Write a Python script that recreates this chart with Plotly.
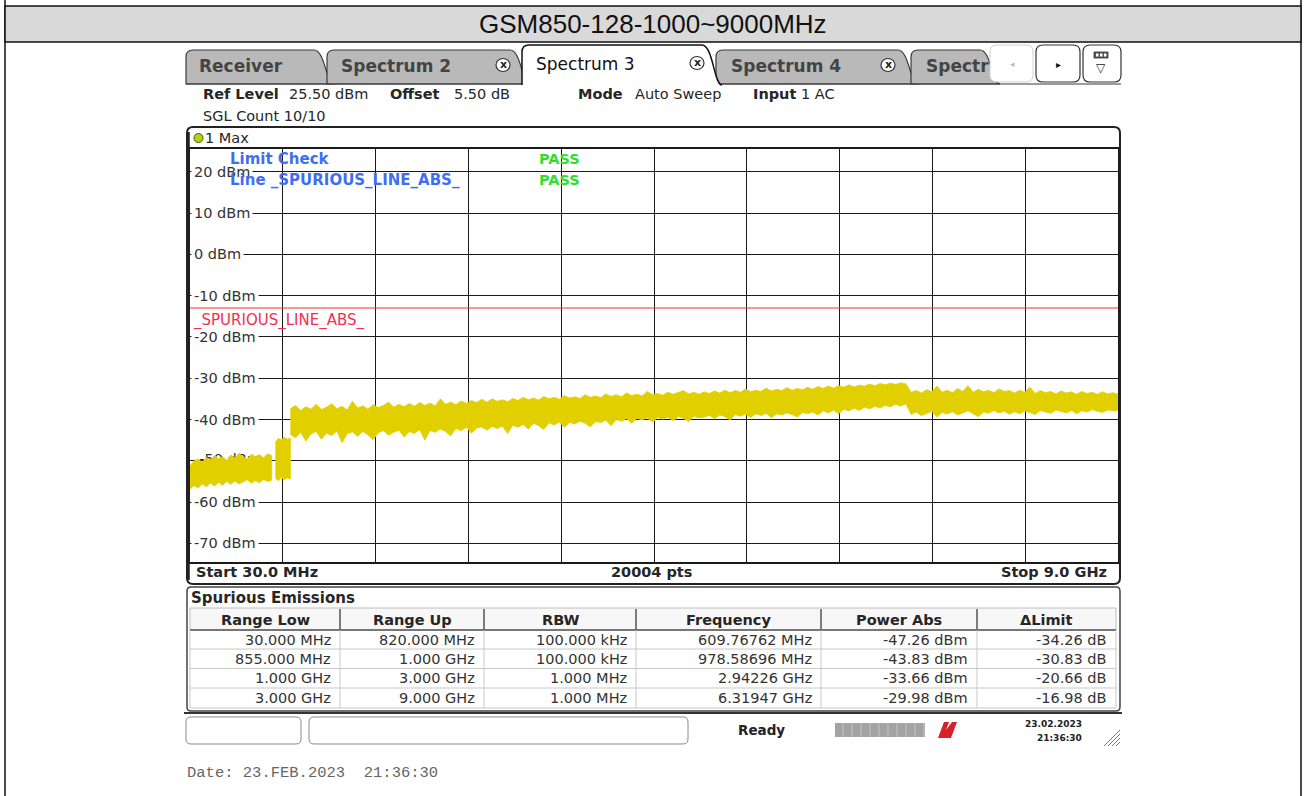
import numpy as np
import plotly.graph_objects as go

# ---------------------------------------------------------------- data
TITLE = "GSM850-128-1000~9000MHz"
TAB_LABELS = ["Receiver", "Spectrum 2", "Spectrum 3", "Spectrum 4", "Spectr"]
INFO_ITEMS = [("Ref Level", "25.50 dBm"), ("Offset", "5.50 dB"),
              ("Mode", "Auto Sweep"), ("Input", "1 AC")]
SGL_COUNT = "SGL Count 10/10"
TRACE_NAME = "1 Max"

F_START = 0.03      # GHz
F_STOP = 9.0        # GHz
REF_LEVEL = 25.5    # dBm (top of grid)
DB_PER_DIV = 10
N_DIV = 10
Y_LABELS = [20, 10, 0, -10, -20, -30, -40, -50, -60, -70]
LIMIT_LEVEL = -13.0
LIMIT_NAME = "_SPURIOUS_LINE_ABS_"
SWEEP_POINTS = 20004
LIMIT_CHECK = [("Limit Check", "PASS"), ("Line " + LIMIT_NAME, "PASS")]

# Max-hold trace, upper / lower envelope (dBm)
SEG1_RANGE = (0.03, 0.82)
SEG1_UPPER = [-51.2, -50.0, -49.6, -50.3, -49.2, -49.8, -48.7, -49.5, -49.0, -49.9, -48.6,
              -49.3, -48.2, -49.1, -49.6, -48.4, -49.0, -48.5, -49.3, -48.3, -48.8]
SEG1_LOWER = [-56.8, -56.0, -56.6, -55.6, -56.3, -55.4, -56.1, -55.2, -55.9, -55.0, -55.7,
              -54.9, -55.6, -55.1, -54.6, -55.4, -54.8, -55.3, -54.5, -55.0, -54.7]
SEG2_RANGE = (0.855, 1.0)
SEG2_UPPER = [-45.5, -44.6, -44.9, -44.3, -44.8, -44.5]
SEG2_LOWER = [-54.2, -54.8, -54.0, -54.6, -54.1, -54.4]
SEG3_RANGE = (1.0, 9.0)
SEG3_UPPER = [
    -37.4, -36.6, -37.8, -36.9, -37.5, -36.3, -37.6, -37.0, -36.2, -37.4, -36.8, -37.7, -35.6, -37.2, -36.7, -37.5, -36.4, -37.1, -36.6, -35.8,
    -37.0, -36.3, -36.9, -36.1, -36.8, -35.9, -36.6, -36.0, -36.7, -35.0, -36.3, -35.8, -36.4, -35.5, -36.1, -35.4, -35.9, -35.1, -35.8, -35.0,
    -35.6, -35.2, -35.7, -34.9, -35.4, -34.6, -35.2, -34.8, -35.3, -34.4, -35.0, -34.6, -35.1, -34.2, -34.8, -34.5, -34.9, -34.0, -34.6, -34.3,
    -34.7, -33.8, -34.4, -34.0, -34.5, -33.6, -34.2, -33.9, -34.3, -33.2, -34.0, -33.7, -34.1, -33.4, -33.9, -33.5, -33.0, -33.8, -33.4, -33.9,
    -33.3, -33.7, -33.1, -33.6, -32.9, -33.5, -33.0, -33.4, -32.6, -33.3, -32.9, -33.2, -32.4, -33.1, -32.7, -33.0, -32.3, -32.9, -32.5, -32.8,
    -32.2, -32.7, -32.0, -32.5, -31.9, -32.4, -31.8, -32.2, -31.6, -32.1, -31.7, -31.9, -31.4, -31.8, -31.3, -31.6, -31.2, -31.5, -31.1, -31.4,
    -33.4, -33.0, -33.6, -32.8, -33.3, -31.9, -33.4, -32.9, -33.5, -32.5, -33.2, -31.8, -33.4, -32.7, -33.3, -32.9, -33.5, -32.6, -33.2, -33.0,
    -33.6, -32.9, -33.4, -32.2, -33.7, -33.0, -33.5, -33.2, -33.8, -33.1, -33.6, -33.3, -33.9, -33.2, -33.7, -33.4, -33.9, -33.3, -33.8, -33.5,
    -33.9]
SEG3_LOWER = [
    -43.6, -44.4, -43.1, -45.2, -43.5, -42.9, -44.8, -43.3, -43.9, -42.8, -45.6, -43.4, -43.0, -44.1, -42.9, -43.7, -44.9, -43.2, -42.7, -43.8,
    -43.1, -42.6, -44.3, -42.9, -43.4, -42.4, -45.0, -42.7, -43.1, -42.3, -42.9, -44.0, -42.2, -42.7, -41.9, -43.3, -42.1, -41.8, -42.6, -41.7,
    -42.2, -41.6, -43.4, -41.4, -41.9, -41.2, -42.3, -40.9, -41.5, -42.4, -40.8, -41.3, -40.6, -41.9, -40.7, -41.1, -40.4, -40.9, -41.8, -40.5,
    -40.7, -40.2, -41.5, -40.0, -40.4, -39.8, -40.9, -39.7, -40.1, -39.6, -40.6, -39.5, -39.9, -39.4, -40.3, -39.3, -39.7, -40.5, -39.2, -39.6,
    -39.4, -39.0, -39.8, -38.9, -39.3, -40.1, -38.8, -39.2, -38.7, -39.5, -38.6, -39.0, -38.5, -39.6, -38.6, -38.9, -38.4, -38.8, -39.4, -38.3,
    -38.6, -38.2, -38.9, -37.9, -38.4, -37.7, -38.6, -37.5, -37.9, -37.3, -37.8, -37.0, -37.4, -36.8, -37.2, -36.6, -36.9, -36.3, -36.7, -36.2,
    -38.8, -38.2, -39.1, -38.5, -38.0, -39.4, -38.3, -38.7, -38.1, -38.9, -38.4, -37.9, -38.6, -39.3, -38.2, -38.5, -37.8, -38.4, -38.0, -38.7,
    -38.1, -38.6, -37.9, -38.3, -38.8, -37.8, -38.2, -38.5, -37.7, -38.1, -38.4, -37.8, -38.6, -37.9, -38.2, -37.6, -38.0, -38.3, -37.7, -37.9,
    -37.8]

TABLE_TITLE = "Spurious Emissions"
TABLE_HEADERS = ["Range Low", "Range Up", "RBW", "Frequency", "Power Abs", "\u0394Limit"]
RANGE_LOW = ["30.000 MHz", "855.000 MHz", "1.000 GHz", "3.000 GHz"]
RANGE_UP = ["820.000 MHz", "1.000 GHz", "3.000 GHz", "9.000 GHz"]
RBW = ["100.000 kHz", "100.000 kHz", "1.000 MHz", "1.000 MHz"]
PEAK_FREQ = ["609.76762 MHz", "978.58696 MHz", "2.94226 GHz", "6.31947 GHz"]
POWER_ABS = ["-47.26 dBm", "-43.83 dBm", "-33.66 dBm", "-29.98 dBm"]
DELTA_LIMIT = ["-34.26 dB", "-30.83 dB", "-20.66 dB", "-16.98 dB"]

STATUS_TEXT = "Ready"
STATUS_DATE = "23.02.2023"
STATUS_TIME = "21:36:30"
FOOTER = "Date: 23.FEB.2023  21:36:30"

# ---------------------------------------------------------------- layout constants (px)
W, H = 1307, 796
FONT = "DejaVu Sans"
GRID_L, GRID_R, GRID_T, GRID_B = 190, 1118, 149, 562
YELLOW = "#e2cf00"
INK = "#262626"

def X(px):
    return px / W

def Y(py):
    return 1 - py / H

def P(x, y):
    return f"{X(x):.5f},{Y(y):.5f}"

shapes = []
ann = []

def rect(x0, y0, x1, y1, fill=None, line=None, lw=1, layer="above"):
    shapes.append(dict(type="rect", xref="paper", yref="paper", x0=X(x0), x1=X(x1),
                       y0=Y(y1), y1=Y(y0), fillcolor=fill or "rgba(0,0,0,0)",
                       line=dict(color=line or "rgba(0,0,0,0)", width=lw if line else 0),
                       layer=layer))

def hline(x0, x1, y, color, lw=1):
    shapes.append(dict(type="line", xref="paper", yref="paper", x0=X(x0), x1=X(x1),
                       y0=Y(y), y1=Y(y), line=dict(color=color, width=lw)))

def vline(x, y0, y1, color, lw=1):
    shapes.append(dict(type="line", xref="paper", yref="paper", x0=X(x), x1=X(x),
                       y0=Y(y0), y1=Y(y1), line=dict(color=color, width=lw)))

def path(d, fill=None, line=None, lw=1):
    shapes.append(dict(type="path", xref="paper", yref="paper", path=d,
                       fillcolor=fill or "rgba(0,0,0,0)",
                       line=dict(color=line or "rgba(0,0,0,0)", width=lw if line else 0)))

def rrect(x0, y0, x1, y1, r, fill=None, line=None, lw=1):
    d = (f"M{P(x0+r,y0)} L{P(x1-r,y0)} Q{P(x1,y0)} {P(x1,y0+r)} L{P(x1,y1-r)} "
         f"Q{P(x1,y1)} {P(x1-r,y1)} L{P(x0+r,y1)} Q{P(x0,y1)} {P(x0,y1-r)} "
         f"L{P(x0,y0+r)} Q{P(x0,y0)} {P(x0+r,y0)} Z")
    path(d, fill, line, lw)

def text(x, y, s, size=15, color=INK, anchor="left", font=FONT, bold=False, yref="paper",
         bg=None, pad=0):
    ann.append(dict(x=X(x), y=(Y(y) if yref == "paper" else y), xref="paper", yref=yref,
                    text=(f"<b>{s}</b>" if bold else s), showarrow=False,
                    xanchor=anchor, yanchor="middle",
                    font=dict(family=font, size=size, color=color),
                    bgcolor=bg, borderpad=pad))

def tab_path(x0, x1, top, bot, close=True):
    r = 7
    d = (f"M{P(x0,bot)} L{P(x0,top+r)} Q{P(x0,top)} {P(x0+r,top)} L{P(x1-20,top)} "
         f"C{P(x1-9,top)} {P(x1-8,bot)} {P(x1,bot)}")
    return d + (" Z" if close else "")

# ---------------------------------------------------------------- page frame + title band
vline(5, 0, 796, "#111", 1.5)
vline(1301, 0, 796, "#111", 1.5)
rect(5, 6, 1301, 42, fill="#d9d9d9", line="#111", lw=1.5)
text(653, 24, TITLE, size=26, color="#111", anchor="center", font="Liberation Sans")

# ---------------------------------------------------------------- tabs
TAB_X = [(186, 334), (327, 530), (522, 722), (716, 918), (911, 1000)]
for i, (x0, x1) in enumerate(TAB_X):
    if i == 2:
        continue
    path(tab_path(x0, x1, 50, 84), fill="#b9b9b9", line="#3a3a3a", lw=1.2)
hline(186, 1121, 84, "#3a3a3a", 1.2)
path(tab_path(522, 722, 45, 85, close=False), fill="white", line="#111", lw=1.5)
hline(523.5, 716, 85, "white", 2.5)
TAB_TEXT_X = [198, 340, 535, 730, 925]
for i, lab in enumerate(TAB_LABELS):
    if i == 2:
        text(TAB_TEXT_X[i], 64, lab, size=17, color="#111")
    else:
        text(TAB_TEXT_X[i], 66, lab, size=17, color="#444", bold=True)
for cx, cy in [(503, 65), (697, 63), (888, 65)]:
    shapes.append(dict(type="circle", xref="paper", yref="paper", x0=X(cx-7), x1=X(cx+7),
                       y0=Y(cy+6.5), y1=Y(cy-6.5), fillcolor="white",
                       line=dict(color="#333", width=1.2)))
    text(cx, cy - 0.5, "x", size=11, color="#222", anchor="center", bold=True)
# navigation buttons
rrect(990, 45, 1033, 82, 7, fill="white", line="#d0d0d0", lw=1)
text(1012, 64, "\u25c2", size=9, color="#bbbbbb", anchor="center")
rrect(1036, 45, 1080, 82, 7, fill="white", line="#333", lw=1.2)
text(1058, 64, "\u25b8", size=10, color="#111", anchor="center")
rrect(1083, 45, 1121, 82, 7, fill="white", line="#333", lw=1.2)
rect(1094, 52, 1108, 58, fill="#555", line="#333", lw=0.8)
for bx in (1096, 1100, 1104):
    rect(bx, 53.5, bx + 2.5, 56.5, fill="white")
text(1101, 68, "\u25bd", size=12, color="#222", anchor="center")

# ---------------------------------------------------------------- info lines
INFO_X = [(202, 288), (389, 453), (577, 634), (752, 800)]
for (lab, val), (xl, xv) in zip(INFO_ITEMS, INFO_X):
    text(xl, 94, lab, size=14.5, bold=True)
    text(xv, 94, val, size=14.5)
text(202, 116, SGL_COUNT, size=14.5)

# ---------------------------------------------------------------- diagram window
rrect(187, 127, 1120, 584, 6, fill=None, line="#222", lw=2)
vline(188.5, 132, 580, "#222", 2.5)
shapes.append(dict(type="circle", xref="paper", yref="paper", x0=X(194), x1=X(203),
                   y0=Y(142.5), y1=Y(133.5), fillcolor="#b3d11a",
                   line=dict(color="#4d5a00", width=1)))
text(204, 138, TRACE_NAME, size=14.5)

# y-axis labels (white background hides the grid behind them)
for v in Y_LABELS:
    if v == -50:
        continue
    text(190.5, v, f"{v} dBm", size=14.5, color="#333", yref="y", bg="white", pad=2)

# limit line
shapes.append(dict(type="line", xref="x", yref="y", x0=F_START, x1=F_STOP,
                   y0=LIMIT_LEVEL, y1=LIMIT_LEVEL, line=dict(color="#ff2a2a", width=1.2)))
ann.append(dict(x=X(191), y=LIMIT_LEVEL, xref="paper", yref="y", text=LIMIT_NAME,
                showarrow=False, xanchor="left", yanchor="top", yshift=-1,
                font=dict(family=FONT, size=15, color="#f03050")))

# limit check
for (lab, res), yy in zip(LIMIT_CHECK, (159, 180)):
    text(229, yy, lab, size=15, color="#3f6ff0", bold=True)
    text(538, yy, res, size=14.5, color="#2ee02e", bold=True)

# start / stop line
text(195, 572, f"Start {F_START*1000:.1f} MHz", size=14.5, bold=True)
text(651, 572, f"{SWEEP_POINTS} pts", size=14.5, anchor="center", bold=True)
text(1108, 572, f"Stop {F_STOP:.1f} GHz", size=14.5, anchor="right", bold=True)

# ---------------------------------------------------------------- result table
rrect(187, 587, 1120, 711, 4, fill=None, line="#444", lw=1.5)
text(190, 598, TABLE_TITLE, size=15, bold=True)
COL_EDGES = [190, 340, 484, 636, 821, 977, 1116]
ROW_EDGES = [630, 649, 668.5, 688, 708]
rect(190, 608, 1116, 630, fill="#f7f7f7", line="#bdbdbd", lw=1)
hline(190, 1116, 630, "#555", 1.5)
for x in COL_EDGES[1:-1]:
    vline(x, 609, 630, "#555", 1.5)
for x in COL_EDGES:
    vline(x, 630, 708, "#c8c8c8", 1)
for y in ROW_EDGES[1:]:
    hline(190, 1116, y, "#c8c8c8", 1)
for j, hdr in enumerate(TABLE_HEADERS):
    text((COL_EDGES[j] + COL_EDGES[j+1]) / 2, 620, hdr, size=14.5, anchor="center", bold=True)
columns = [RANGE_LOW, RANGE_UP, RBW, PEAK_FREQ, POWER_ABS, DELTA_LIMIT]
for j, col in enumerate(columns):
    for i, val in enumerate(col):
        yc = (ROW_EDGES[i] + ROW_EDGES[i+1]) / 2
        text(COL_EDGES[j+1] - 8, yc, val, size=14.5, color="#333", anchor="right")

# ---------------------------------------------------------------- status bar
hline(184, 1122, 713, "#333", 2)
rrect(186, 717, 301, 744, 5, fill="white", line="#8a8a8a", lw=1)
rrect(309, 717, 688, 744, 5, fill="white", line="#8a8a8a", lw=1)
text(761, 730, STATUS_TEXT, size=13.5, anchor="center", bold=True, color="#222")
rect(835, 723, 925, 737, fill="#a3a3a3")
for bx in range(843, 925, 9):
    vline(bx, 723, 737, "#c4c4c4", 1)
path(f"M{P(938,738)} L{P(944,722)} L{P(949,722)} L{P(946,730)} L{P(952,722)} L{P(957,722)} L{P(951,738)} Z",
     fill="#d8202a")
text(1083, 724, STATUS_DATE, size=9, anchor="right", bold=True, color="#222")
text(1083, 738, STATUS_TIME, size=9, anchor="right", bold=True, color="#222")
for k in range(4):
    shapes.append(dict(type="line", xref="paper", yref="paper", x0=X(1104 + 4*k), x1=X(1120),
                       y0=Y(746), y1=Y(746 - (16 - 4*k)), line=dict(color="#777", width=1)))

# footer
text(186, 773, FOOTER, size=15.5, color="#666", font="Liberation Mono")

# ---------------------------------------------------------------- traces
fig = go.Figure()
# -50 dBm label sits underneath the trace
fig.add_trace(go.Scatter(x=[F_START], y=[-50], mode="text", text=["  -50 dBm"],
                         textposition="middle right",
                         textfont=dict(family=FONT, size=14.5, color="#333"),
                         hoverinfo="skip", showlegend=False))
for (f0, f1), up, lo in [(SEG1_RANGE, SEG1_UPPER, SEG1_LOWER),
                         (SEG2_RANGE, SEG2_UPPER, SEG2_LOWER),
                         (SEG3_RANGE, SEG3_UPPER, SEG3_LOWER)]:
    f = list(np.linspace(f0, f1, len(up)))
    fig.add_trace(go.Scatter(x=f + f[::-1], y=list(up) + list(lo)[::-1], mode="lines",
                             fill="toself", fillcolor=YELLOW,
                             line=dict(color=YELLOW, width=0.8),
                             hoverinfo="skip", showlegend=False))

grid_x = list(np.linspace(F_START, F_STOP, N_DIV + 1))
fig.update_layout(
    width=W, height=H, margin=dict(l=0, r=0, t=0, b=0),
    paper_bgcolor="white", plot_bgcolor="white", showlegend=False,
    xaxis=dict(domain=[X(GRID_L), X(GRID_R)], range=[F_START, F_STOP],
               tickvals=grid_x, showticklabels=False, ticks="",
               showgrid=True, gridcolor="#1a1a1a", gridwidth=1.4, zeroline=False,
               showline=True, mirror=True, linecolor="#1a1a1a", linewidth=1.6, fixedrange=True),
    yaxis=dict(domain=[Y(GRID_B), Y(GRID_T)],
               range=[REF_LEVEL - N_DIV * DB_PER_DIV, REF_LEVEL],
               tickvals=Y_LABELS, showticklabels=False, ticks="",
               showgrid=True, gridcolor="#1a1a1a", gridwidth=1.4, zeroline=False,
               showline=True, mirror=True, linecolor="#1a1a1a", linewidth=1.6, fixedrange=True),
    shapes=shapes, annotations=ann,
)

fig.write_html("out.html", config={"displayModeBar": False},
               post_script="document.body.style.margin='0';")
